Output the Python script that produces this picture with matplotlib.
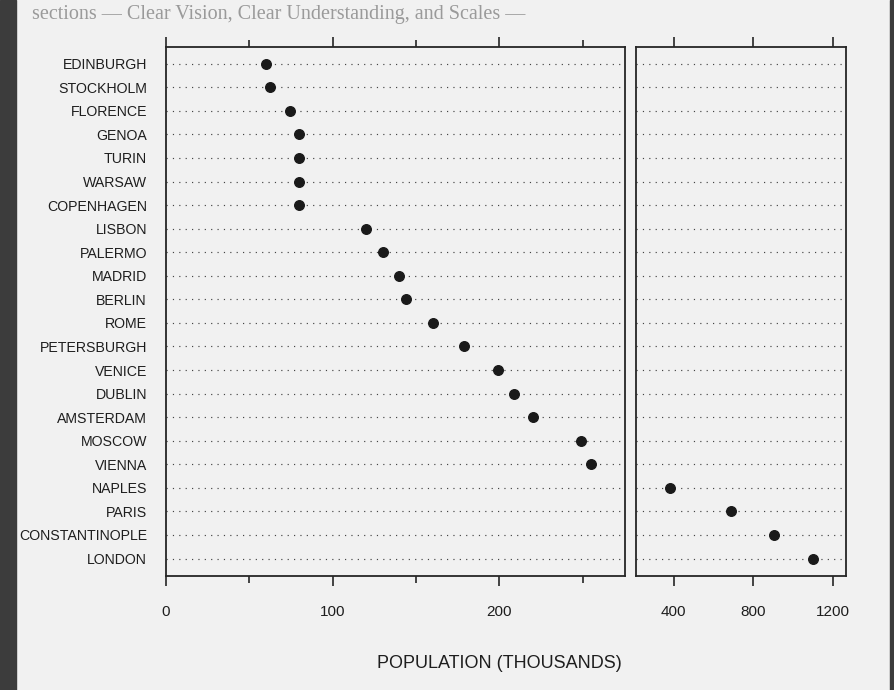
import numpy as np
import matplotlib.pyplot as plt
from matplotlib.patches import Rectangle

plt.rcParams['font.family'] = ['Liberation Sans', 'DejaVu Sans']

# cities from top to bottom, population in thousands
cities = ["EDINBURGH", "STOCKHOLM", "FLORENCE", "GENOA", "TURIN", "WARSAW",
          "COPENHAGEN", "LISBON", "PALERMO", "MADRID", "BERLIN", "ROME",
          "PETERSBURGH", "VENICE", "DUBLIN", "AMSTERDAM", "MOSCOW", "VIENNA",
          "NAPLES", "PARIS", "CONSTANTINOPLE", "LONDON"]
population = [60, 62.5, 74.5, 79.5, 80, 80, 80, 120, 130, 140, 144, 160,
              179, 199, 209, 220, 249, 255, 381, 690, 903, 1100]

# scale break: left panel runs 0..275, right panel 210..1265
left_lim = (0, 275)
right_lim = (210, 1265)
left_major = [0, 100, 200]
left_minor = [50, 150, 250]
right_major = [400, 800, 1200]
xlabel = "POPULATION (THOUSANDS)"
page_line = "sections \u2014 Clear Vision, Clear Understanding, and Scales \u2014"

paper = '#f1f1f1'
ink = '#262626'

W, H = 894, 690
fig = plt.figure(figsize=(W / 100, H / 100), dpi=100, facecolor=paper)

# dark scanner border at the sides
fig.patches.append(Rectangle((0, 0), 16 / W, 1, transform=fig.transFigure,
                             color='#3c3c3c', zorder=0))
fig.patches.append(Rectangle((890 / W, 0), 4 / W, 1, transform=fig.transFigure,
                             color='#3c3c3c', zorder=0))

# faint line of page text above the figure
fig.text(32 / W, 1 - 15 / H, page_line, family='Liberation Serif',
         fontsize=14.5, color='#9a9a9a', ha='left', va='center')

top, bottom = 47, 576
ax1 = fig.add_axes([166 / W, 1 - bottom / H, (624.5 - 166) / W, (bottom - top) / H])
ax2 = fig.add_axes([636 / W, 1 - bottom / H, (845.5 - 636) / W, (bottom - top) / H])

pop = np.array(population)
ypos = np.arange(len(cities))
small = pop <= left_lim[1]

for ax in (ax1, ax2):
    ax.set_facecolor('none')
    ax.set_yticks(ypos)
    ax.set_ylim(len(cities) - 1 + 0.74, -0.71)
    ax.yaxis.grid(True, linestyle=(0, (1, 4.4)), linewidth=0.85, color='#444444')
    for s in ax.spines.values():
        s.set_color(ink)
        s.set_linewidth(1.3)
    ax.tick_params(axis='x', which='both', top=True, bottom=True, direction='out',
                   color=ink, width=1.2, labelsize=11, labelcolor='#1e1e1e', pad=14)
    ax.tick_params(axis='x', which='major', length=7.2)
    ax.tick_params(axis='x', which='minor', length=4.7)
    ax.tick_params(axis='y', length=0)

ax1.plot(pop[small], ypos[small], 'o', ms=6.9, color='#1a1a1a', zorder=3)
ax2.plot(pop[~small], ypos[~small], 'o', ms=6.9, color='#1a1a1a', zorder=3)

ax1.set_xlim(*left_lim)
ax1.set_xticks(left_major)
ax1.set_xticks(left_minor, minor=True)
ax1.set_yticklabels(cities, fontsize=10.2, color='#1e1e1e')
ax1.tick_params(axis='y', pad=13.7)

ax2.set_xlim(*right_lim)
ax2.set_xticks(right_major)
ax2.tick_params(axis='y', labelleft=False)

fig.text(499 / W, 1 - 663 / H, xlabel, ha='center', va='center',
         fontsize=13, color='#1e1e1e')

fig.savefig('out.png', dpi=100, facecolor=paper)
